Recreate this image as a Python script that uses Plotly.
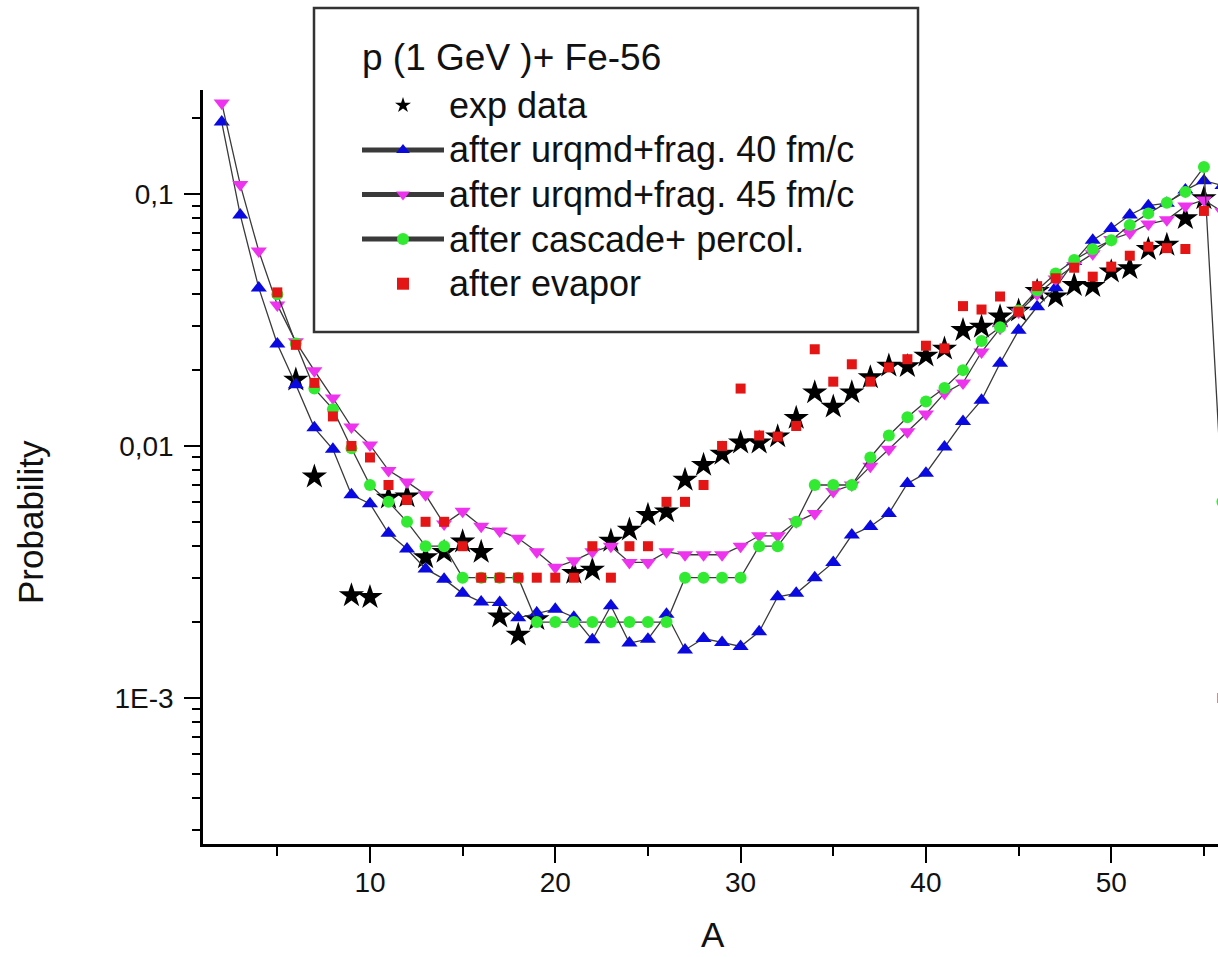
import plotly.graph_objects as go

# ---------------- data ----------------
A_exp = [6, 7, 9, 10, 11, 12, 13, 14, 15, 16, 17, 18, 19, 21, 22, 23, 24, 25, 26, 27, 28, 29, 30,
         31, 32, 33, 34, 35, 36, 37, 38, 39, 40, 41, 42, 43, 44, 45, 46, 47, 48, 49, 50, 51, 52, 53, 54, 55]
P_exp = [0.0183, 0.00755, 0.00255, 0.00251, 0.00623, 0.0063, 0.00361, 0.00379, 0.00417, 0.00379,
         0.0021, 0.00178, 0.00205, 0.00313, 0.00322, 0.0042, 0.00465, 0.00532, 0.00549, 0.00733,
         0.0084, 0.0093, 0.0103, 0.0103, 0.0109, 0.0129, 0.0163, 0.0143, 0.0163, 0.0187, 0.0208,
         0.0207, 0.0228, 0.0243, 0.0288, 0.0297, 0.0326, 0.0344, 0.0412, 0.0392, 0.0435, 0.0431,
         0.0492, 0.0507, 0.0604, 0.0628, 0.0801, 0.0961]

A_urqmd40 = list(range(2, 57))
P_urqmd40 = [0.193, 0.0826, 0.0424, 0.0254, 0.0175, 0.0118, 0.0097, 0.0064, 0.0059, 0.0045,
             0.0039, 0.00325, 0.00296, 0.0026, 0.0024, 0.00239, 0.00208, 0.00217, 0.00225, 0.00209,
             0.0017, 0.00232, 0.00165, 0.00171, 0.00215, 0.00155, 0.00172, 0.00166, 0.0016, 0.00183,
             0.00252, 0.0026, 0.0030, 0.00345, 0.00443, 0.00479, 0.0054, 0.0071, 0.0078, 0.0099,
             0.0125, 0.0152, 0.0213, 0.0288, 0.0357, 0.0425, 0.054, 0.0656, 0.073, 0.0826,
             0.0899, 0.092, 0.1037, 0.113, 0.108]

A_urqmd45 = list(range(2, 57))
P_urqmd45 = [0.230, 0.109, 0.0594, 0.0363, 0.0259, 0.0199, 0.0155, 0.0119, 0.0101, 0.0080,
             0.0072, 0.0064, 0.0049, 0.0055, 0.0048, 0.0046, 0.0043, 0.0038, 0.0033, 0.0035,
             0.0038, 0.0040, 0.00345, 0.00345, 0.0038, 0.0037, 0.0037, 0.0037, 0.0040, 0.0044,
             0.0044, 0.0050, 0.0054, 0.0066, 0.0070, 0.0083, 0.0097, 0.0114, 0.0134, 0.0162,
             0.0178, 0.0236, 0.0293, 0.034, 0.040, 0.046, 0.052, 0.058, 0.066, 0.070,
             0.076, 0.079, 0.0896, 0.0947, 0.085]

A_cascade = list(range(5, 57))
P_cascade = [0.040, 0.0255, 0.0169, 0.0140, 0.0098, 0.0070, 0.0060, 0.0050, 0.0040, 0.0040,
             0.0030, 0.0030, 0.0030, 0.0030, 0.0020, 0.0020, 0.0020, 0.0020, 0.0020, 0.0020,
             0.0020, 0.0020, 0.0030, 0.0030, 0.0030, 0.0030, 0.0040, 0.0040, 0.0050, 0.0070,
             0.0070, 0.0070, 0.0090, 0.0110, 0.0130, 0.0150, 0.0170, 0.0200, 0.0261, 0.0296,
             0.0345, 0.0415, 0.0484, 0.0547, 0.0604, 0.0656, 0.0753, 0.0838, 0.0924, 0.102,
             0.128, 0.006]

A_evapor = list(range(5, 57))
P_evapor = [0.0407, 0.0252, 0.0178, 0.0131, 0.0100, 0.0090, 0.0070, 0.0061, 0.0050, 0.0050,
            0.0040, 0.0030, 0.0030, 0.0030, 0.0030, 0.0030, 0.0030, 0.0040, 0.0030, 0.0040,
            0.0040, 0.0060, 0.0060, 0.0070, 0.0100, 0.0169, 0.0110, 0.0109, 0.0120, 0.0242,
            0.0180, 0.0211, 0.0180, 0.0205, 0.0221, 0.0250, 0.0244, 0.0359, 0.0348, 0.0392,
            0.0341, 0.0431, 0.0463, 0.0510, 0.0470, 0.0515, 0.0569, 0.0618, 0.0610, 0.0605,
            0.0857, 0.0010]

x_tickvals = [10, 20, 30, 40, 50]
x_ticktext = ["10", "20", "30", "40", "50"]
x_minorvals = [5, 15, 25, 35, 45, 55]
y_tickvals = [0.001, 0.01, 0.1]
y_ticktext = ["1E-3", "0,01", "0,1"]

legend_title = "p (1 GeV )+ Fe-56"
names = ["exp data", "after urqmd+frag. 40 fm/c", "after urqmd+frag. 45 fm/c",
         "after cascade+ percol.", "after evapor"]

# ---------------- style ----------------
FONT = "Arial, Liberation Sans, sans-serif"
W, H = 1218, 957
ML, MR, MT, MB = 203, 0, 90, 113
PW, PH = W - ML - MR, H - MT - MB


def px_x(p):
    return (p - ML) / PW


def px_y(p):
    return (H - MB - p) / PH


def lname(s):
    return "<span style='font-size:36px'>" + s + "</span>"


LINE = dict(color="#3a3a3a", width=1.3)

fig = go.Figure()
fig.add_trace(go.Scatter(x=A_exp, y=P_exp, mode="markers", name=lname(names[0]),
                         marker=dict(symbol="star", size=19, color="black"),
                         legendgroup="g0"))
fig.add_trace(go.Scatter(x=A_urqmd40, y=P_urqmd40, mode="lines+markers", name=lname(names[1]),
                         line=LINE, marker=dict(symbol="triangle-up", size=14, color="#0a0ae0"),
                         legendgroup="g1"))
fig.add_trace(go.Scatter(x=A_urqmd45, y=P_urqmd45, mode="lines+markers", name=lname(names[2]),
                         line=LINE, marker=dict(symbol="triangle-down", size=14, color="#ee33ee"),
                         legendgroup="g2"))
fig.add_trace(go.Scatter(x=A_cascade, y=P_cascade, mode="lines+markers", name=lname(names[3]),
                         line=LINE, marker=dict(symbol="circle", size=12, color="#33ea33"),
                         legendgroup="g3"))
fig.add_trace(go.Scatter(x=A_evapor, y=P_evapor, mode="markers", name=lname(names[4]),
                         marker=dict(symbol="square", size=10, color="#e41515"),
                         legendgroup="g4"))

y_minor = [m * 10.0 ** d for d in (-4, -3, -2, -1) for m in range(2, 10)
           if 2.6e-4 < m * 10.0 ** d < 0.26]

fig.update_layout(
    width=W, height=H,
    margin=dict(l=ML, r=MR, t=MT, b=MB, pad=0),
    paper_bgcolor="white", plot_bgcolor="white",
    font=dict(family=FONT, color="#111111"),
    showlegend=True,
    legend=dict(x=px_x(357), y=px_y(78), xanchor="left", yanchor="top",
                bgcolor="rgba(0,0,0,0)", borderwidth=0,
                font=dict(size=32, family=FONT, color="#111111"),
                itemwidth=82, itemsizing="constant", tracegroupgap=0,
                traceorder="normal"),
    xaxis=dict(range=[0.99, 55.76], showgrid=False, zeroline=False,
               showline=True, linecolor="black", linewidth=2.5,
               ticks="outside", ticklen=16, tickwidth=2, tickcolor="black",
               tickvals=x_tickvals, ticktext=x_ticktext,
               tickfont=dict(size=28, family=FONT, color="#111111"),
               minor=dict(tickvals=x_minorvals, ticks="outside", ticklen=9,
                          tickwidth=2, tickcolor="black"),
               ticklabelstandoff=-4),
    yaxis=dict(type="log", range=[-3.58, -0.587], showgrid=False, zeroline=False,
               showline=True, linecolor="black", linewidth=2.5,
               ticks="outside", ticklen=16, tickwidth=2, tickcolor="black",
               tickvals=y_tickvals, ticktext=y_ticktext,
               tickfont=dict(size=28, family=FONT, color="#111111"),
               minor=dict(tickvals=y_minor, ticks="outside", ticklen=8,
                          tickwidth=2, tickcolor="black"),
               ticklabelstandoff=5),
    shapes=[dict(type="rect", xref="paper", yref="paper",
                 x0=px_x(314), x1=px_x(918), y0=px_y(332), y1=px_y(8),
                 line=dict(color="#333333", width=2.5), fillcolor="rgba(0,0,0,0)",
                 layer="above")],
    annotations=[
        dict(text=legend_title, xref="paper", yref="paper", x=px_x(360), y=px_y(58),
             xanchor="left", yanchor="middle", showarrow=False,
             font=dict(size=37, family=FONT, color="#111111")),
        dict(text="Probability", xref="paper", yref="paper", x=px_x(30), y=px_y(522),
             xanchor="center", yanchor="middle", textangle=-90, showarrow=False,
             font=dict(size=35, family=FONT, color="#111111")),
        dict(text="A", xref="paper", yref="paper", x=px_x(713), y=px_y(934),
             xanchor="center", yanchor="middle", showarrow=False,
             font=dict(size=35, family=FONT, color="#111111")),
    ],
)

fig.write_html("out.html",
               config={"displayModeBar": False},
               post_script="document.body.style.margin='0px';"
                           "document.body.style.overflow='hidden';")
